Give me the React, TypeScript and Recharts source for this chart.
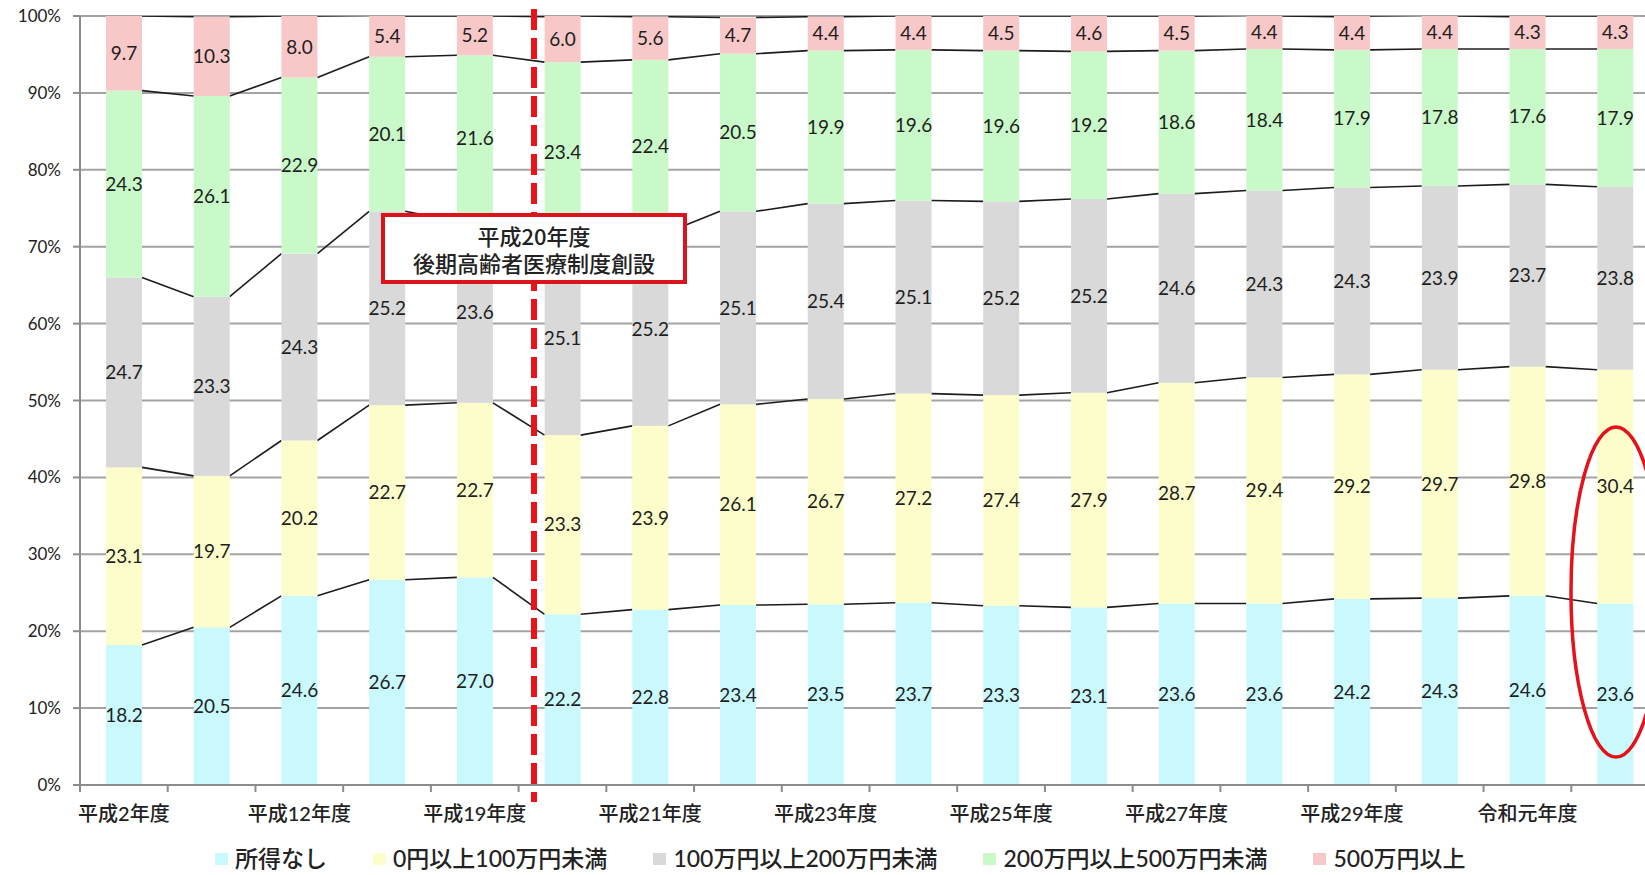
import React from 'react';
import { ComposedChart, Bar, XAxis, YAxis, CartesianGrid, LabelList } from 'recharts';

// 年度 (labels are shown on every other category, as in the source chart)
const years = [
  '平成2年度', '平成7年度', '平成12年度', '平成17年度', '平成19年度', '平成20年度',
  '平成21年度', '平成22年度', '平成23年度', '平成24年度', '平成25年度', '平成26年度',
  '平成27年度', '平成28年度', '平成29年度', '平成30年度', '令和元年度', '令和2年度',
];

// shares in %
const noIncome = [18.2, 20.5, 24.6, 26.7, 27.0, 22.2, 22.8, 23.4, 23.5, 23.7, 23.3, 23.1, 23.6, 23.6, 24.2, 24.3, 24.6, 23.6];
const under100 = [23.1, 19.7, 20.2, 22.7, 22.7, 23.3, 23.9, 26.1, 26.7, 27.2, 27.4, 27.9, 28.7, 29.4, 29.2, 29.7, 29.8, 30.4];
const under200 = [24.7, 23.3, 24.3, 25.2, 23.6, 25.1, 25.2, 25.1, 25.4, 25.1, 25.2, 25.2, 24.6, 24.3, 24.3, 23.9, 23.7, 23.8];
const under500 = [24.3, 26.1, 22.9, 20.1, 21.6, 23.4, 22.4, 20.5, 19.9, 19.6, 19.6, 19.2, 18.6, 18.4, 17.9, 17.8, 17.6, 17.9];
const over500 = [9.7, 10.3, 8.0, 5.4, 5.2, 6.0, 5.6, 4.7, 4.4, 4.4, 4.5, 4.6, 4.5, 4.4, 4.4, 4.4, 4.3, 4.3];

const seriesKeys = ['none', 'u100', 'u200', 'u500', 'o500'];
const seriesNames = ['所得なし', '0円以上100万円未満', '100万円以上200万円未満', '200万円以上500万円未満', '500万円以上'];
const seriesValues = [noIncome, under100, under200, under500, over500];
const colors = ['#c9f8fd', '#fdfdcb', '#d9d9d9', '#c9f9c9', '#f8c8c8'];

const yTicks = [0, 10, 20, 30, 40, 50, 60, 70, 80, 90, 100];

const rows = years.map((year, i) => {
  const row: Record<string, any> = { year };
  seriesKeys.forEach((k, s) => (row[k] = seriesValues[s][i]));
  return row;
});

// running totals, used for the series lines between bars
const cumulative = seriesValues.map((_, s) =>
  years.map((__, i) => seriesValues.slice(0, s + 1).reduce((a, v) => a + v[i], 0))
);

const CHART_W = 1680;
const CHART_H = 875;
const PLOT_LEFT = 80;
const PLOT_RIGHT = 1659;
const PLOT_TOP = 16;
const PLOT_BOTTOM = 785;
const BAND = (PLOT_RIGHT - PLOT_LEFT) / years.length;
const K = (PLOT_BOTTOM - PLOT_TOP) / 100;

const numFont = 'Lato, "Noto Sans CJK JP", sans-serif';
const jpFont = '"Noto Sans CJK JP", sans-serif';

function segmentShape(s: number) {
  return (props: any) => {
    const { x, y, width, height, index } = props;
    const cur = cumulative[s][index];
    const next = cumulative[s][index + 1];
    return (
      <g>
        <rect x={x} y={y} width={width} height={height} fill={colors[s]} />
        {next !== undefined && (
          <line
            x1={x + width}
            y1={y}
            x2={x + BAND}
            y2={y + (cur - next) * K}
            stroke="#1c1c1c"
            strokeWidth={1.6}
          />
        )}
      </g>
    );
  };
}

function YearTick(props: any) {
  const { x, payload, index } = props;
  return (
    <g>
      {index === 0 && (
        <line x1={x - BAND / 2} y1={PLOT_BOTTOM} x2={x - BAND / 2} y2={PLOT_BOTTOM + 7} stroke="#8c8c8c" strokeWidth={2} />
      )}
      <line x1={x + BAND / 2} y1={PLOT_BOTTOM} x2={x + BAND / 2} y2={PLOT_BOTTOM + 7} stroke="#8c8c8c" strokeWidth={2} />
      {index % 2 === 0 && (
        <text
          x={x}
          y={PLOT_BOTTOM + 28}
          textAnchor="middle"
          dominantBaseline="central"
          fontFamily={numFont}
          fontSize={20}
          fontWeight={500}
          fill="#222"
        >
          {payload.value}
        </text>
      )}
    </g>
  );
}

export default function App() {
  return (
    <div
      style={{
        position: 'fixed',
        left: 0,
        top: 0,
        width: 1645,
        height: 875,
        overflow: 'hidden',
        background: '#fff',
      }}
    >
      <ComposedChart
        width={CHART_W}
        height={CHART_H}
        data={rows}
        margin={{ top: PLOT_TOP, right: CHART_W - PLOT_RIGHT, left: 0, bottom: CHART_H - PLOT_BOTTOM - 40 }}
        barSize={36}
      >
        <CartesianGrid vertical={false} stroke="#a3a3a3" strokeWidth={2} />
        <XAxis
          dataKey="year"
          interval={0}
          height={40}
          tickLine={false}
          axisLine={{ stroke: '#8c8c8c', strokeWidth: 2 }}
          tick={<YearTick />}
        />
        <YAxis
          width={PLOT_LEFT}
          domain={[0, 100]}
          allowDataOverflow
          ticks={yTicks}
          tickFormatter={(v: number) => `${v}%`}
          axisLine={{ stroke: '#8c8c8c', strokeWidth: 2 }}
          tickLine={{ stroke: '#8c8c8c', strokeWidth: 2 }}
          tickSize={7}
          tickMargin={12}
          tick={{ fontFamily: numFont, fontSize: 17, fill: '#222' }}
        />
        {seriesKeys.map((k, s) => (
          <Bar
            key={k}
            dataKey={k}
            name={seriesNames[s]}
            stackId="share"
            fill={colors[s]}
            shape={segmentShape(s)}
            isAnimationActive={false}
          >
            <LabelList
              dataKey={k}
              position="center"
              formatter={(v: any) => Number(v).toFixed(1)}
              style={{ fontFamily: numFont, fontSize: 19, fill: '#1e1e1e' }}
            />
          </Bar>
        ))}
      </ComposedChart>

      <svg
        width={1645}
        height={875}
        style={{ position: 'absolute', left: 0, top: 0, pointerEvents: 'none' }}
      >
        <line x1={534} y1={9} x2={534} y2={802} stroke="#e8141c" strokeWidth={6} strokeDasharray="21 8" />
        <ellipse cx={1616} cy={592} rx={45} ry={165} fill="none" stroke="#e3121b" strokeWidth={3.5} />
      </svg>

      <div
        style={{
          position: 'absolute',
          left: 381,
          top: 213,
          width: 306,
          height: 71,
          boxSizing: 'border-box',
          border: '4px solid #d9141c',
          background: '#fff',
          display: 'flex',
          justifyContent: 'center',
          alignItems: 'center',
          textAlign: 'center',
          fontFamily: jpFont,
          fontSize: 22,
          lineHeight: '27px',
          fontWeight: 500,
          color: '#222',
        }}
      >
        <div>
          平成20年度
          <br />
          後期高齢者医療制度創設
        </div>
      </div>

      <div
        style={{
          position: 'absolute',
          left: 215,
          top: 847,
          height: 23,
          display: 'flex',
          alignItems: 'center',
          gap: 46,
          fontFamily: numFont,
          fontSize: 23,
          lineHeight: '23px',
          fontWeight: 500,
          color: '#222',
          whiteSpace: 'nowrap',
        }}
      >
        {seriesNames.map((n, s) => (
          <div key={n} style={{ display: 'flex', alignItems: 'center' }}>
            <span style={{ width: 13, height: 12, background: colors[s], marginRight: 7 }} />
            <span>{n}</span>
          </div>
        ))}
      </div>
    </div>
  );
}
